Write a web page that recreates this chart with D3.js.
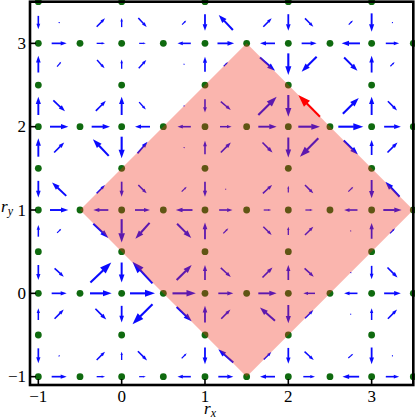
<!DOCTYPE html>
<html>
<head>
<meta charset="utf-8">
<script src="https://cdn.jsdelivr.net/npm/d3@7"></script>
<style>
  body { margin: 0; background: #fff; }
  svg { display: block; }
  text { font-family: "Liberation Serif", "DejaVu Serif", serif; fill: #000; }
</style>
</head>
<body>
<svg id="chart" width="415" height="418"></svg>
<script>
// lattice sites: rows at integer y carry every half-integer x, rows at half-integer y only integer x
var fullRows = [-1, 0, 1, 2, 3];
var fullRowX = [-1, -0.5, 0, 0.5, 1, 1.5, 2, 2.5, 3, 3.5];
var halfRows = [-0.5, 0.5, 1.5, 2.5, 3.5];
var halfRowX = [-1, 0, 1, 2, 3];

var ticks = [-1, 0, 1, 2, 3];

// diamond region
var region = [[1.5, 3], [3.5, 1], [1.5, -1], [-0.5, 1]];

// horizontal bond arrows [x, y, u, v]
var horizontal = [
  [-0.75, 3, 0.18, 0], [-0.25, 3, 0.10, 0], [0.25, 3, 0.08, 0], [0.75, 3, -0.16, 0], [1.25, 3, 0.20, 0],
  [1.75, 3, -0.18, 0], [2.25, 3, 0.18, 0], [2.75, 3, -0.22, 0], [3.25, 3, 0.16, 0],
  [-0.75, 2, 0.22, 0], [-0.25, 2, 0.22, 0], [0.25, 2, -0.18, 0], [0.75, 2, -0.16, 0], [1.25, 2, 0.14, 0],
  [1.75, 2, 0.22, 0], [2.25, 2, 0.26, 0], [2.75, 2, 0.30, 0], [3.25, 2, 0.20, 0],
  [-0.75, 1, 0.22, 0], [-0.25, 1, -0.18, 0], [0.25, 1, 0.18, 0], [0.75, 1, -0.20, 0], [1.25, 1, 0.16, 0],
  [1.75, 1, 0.09, 0], [2.25, 1, 0.09, 0], [2.75, 1, -0.16, 0], [3.25, 1, 0.22, 0],
  [-0.75, 0, 0.18, 0], [-0.25, 0, 0.26, 0], [0.25, 0, 0.30, 0], [0.75, 0, 0.28, 0], [1.25, 0, 0.18, 0],
  [1.75, 0, 0.22, 0], [2.25, 0, -0.14, 0], [2.75, 0, -0.16, 0], [3.25, 0, 0.20, 0],
  [-0.75, -1, 0.18, 0], [-0.25, -1, 0.10, 0], [0.25, -1, 0.08, 0], [0.75, -1, -0.16, 0], [1.25, -1, 0.18, 0],
  [1.75, -1, -0.18, 0], [2.25, -1, 0.14, 0], [2.75, -1, -0.20, 0], [3.25, -1, 0.16, 0]
];

// vertical bond arrows [x, y, u, v]
var vertical = [
  [-1, 3.25, 0, -0.16], [-1, 2.75, 0, 0.20], [-1, 2.25, 0, 0.22], [-1, 1.75, 0, 0.22], [-1, 1.25, 0, -0.20],
  [-1, 0.75, 0, 0.14], [-1, 0.25, 0, -0.18], [-1, -0.25, 0, 0.14], [-1, -0.75, 0, -0.18],
  [0, 3.25, 0, 0.11], [0, 2.75, 0, 0.11], [0, 2.25, 0, 0.22], [0, 1.75, 0, -0.26], [0, 1.25, 0, -0.18],
  [0, 0.75, 0, -0.28], [0, 0.25, 0, -0.24], [0, -0.25, 0, -0.20], [0, -0.75, 0, 0.10],
  [1, 3.25, 0, -0.20], [1, 2.75, 0, 0.18], [1, 2.25, 0, -0.16], [1, 1.75, 0, 0.16], [1, 1.25, 0, -0.18],
  [1, 0.75, 0, 0.20], [1, 0.25, 0, 0.18], [1, -0.25, 0, 0.20], [1, -0.75, 0, -0.20],
  [2, 3.25, 0, -0.20], [2, 2.75, 0, -0.26], [2, 2.25, 0, -0.26], [2, 1.75, 0, -0.24], [2, 1.25, 0, 0.08],
  [2, 0.75, 0, 0.10], [2, 0.25, 0, 0.18], [2, -0.25, 0, -0.22], [2, -0.75, 0, -0.19],
  [3, 3.25, 0, -0.22], [3, 2.75, 0, 0.20], [3, 2.25, 0, 0.22], [3, 1.75, 0, 0.18], [3, 1.25, 0, -0.22],
  [3, 0.75, 0, 0.19], [3, 0.25, 0, -0.16], [3, -0.25, 0, 0.14], [3, -0.75, 0, -0.20]
];

// diagonal arrows [x, y, u, v]
var diagonal = [
  [-0.75, 3.25, 0.012, 0.012], [-0.25, 3.25, 0.10, 0.10], [0.25, 3.25, 0.10, -0.11], [0.75, 3.25, 0.05, 0.05],
  [1.25, 3.25, -0.17, 0.18], [1.75, 3.25, 0.10, 0.10], [2.25, 3.25, 0.10, -0.10], [2.75, 3.25, 0.05, 0.05], [3.25, 3.25, 0.012, 0.012],
  [-0.75, 2.75, 0.05, 0.06], [-0.25, 2.75, 0.09, -0.10], [0.25, 2.75, 0.09, 0.10], [0.75, 2.75, 0.01, 0.01],
  [1.25, 2.75, 0.05, 0.05], [1.75, 2.75, 0.18, -0.16], [2.25, 2.75, -0.18, -0.18], [2.75, 2.75, 0.16, -0.16], [3.25, 2.75, 0.05, 0.05],
  [-0.75, 2.25, 0.14, -0.13], [-0.25, 2.25, 0.12, 0.12], [0.25, 2.25, 0.08, -0.09], [0.75, 2.25, 0.01, 0.01],
  [1.25, 2.25, 0.12, -0.10], [1.75, 2.25, 0.22, 0.22], [2.75, 2.25, 0.19, 0.19], [3.25, 2.25, 0.11, -0.11],
  [-0.75, 1.75, 0.12, 0.12], [-0.25, 1.75, -0.19, 0.20], [0.25, 1.75, 0.12, 0.14], [0.75, 1.75, 0.01, 0.01],
  [1.25, 1.75, 0.12, 0.12], [1.75, 1.75, 0.12, -0.12], [2.25, 1.75, -0.22, -0.22], [2.75, 1.75, 0.17, -0.17], [3.25, 1.75, 0.12, 0.12],
  [-0.75, 1.25, -0.17, 0.16], [-0.25, 1.25, 0.10, 0.10], [0.25, 1.25, 0.10, -0.10], [0.75, 1.25, 0.06, 0.06],
  [1.25, 1.25, 0.01, 0.01], [1.75, 1.25, 0.11, 0.10], [2.25, 1.25, 0.10, -0.10], [2.75, 1.25, 0.06, 0.06], [3.25, 1.25, -0.17, 0.18],
  [-0.75, 0.75, 0.05, 0.05], [-0.25, 0.75, 0.18, -0.17], [0.25, 0.75, -0.17, -0.19], [0.75, 0.75, 0.17, -0.17],
  [1.25, 0.75, 0.06, 0.06], [1.75, 0.75, 0.10, -0.10], [2.25, 0.75, 0.10, 0.10], [2.75, 0.75, 0.01, 0.01], [3.25, 0.75, 0.06, 0.06],
  [-0.75, 0.25, 0.11, -0.10], [-0.25, 0.25, 0.25, 0.24], [0.25, 0.25, -0.24, 0.26], [0.75, 0.25, 0.18, 0.18],
  [1.25, 0.25, 0.12, -0.11], [1.75, 0.25, 0.12, 0.12], [2.25, 0.25, 0.11, -0.10], [2.75, 0.25, 0.01, 0.01], [3.25, 0.25, 0.12, -0.12],
  [-0.75, -0.25, 0.11, 0.11], [-0.25, -0.25, 0.13, -0.13], [0.25, -0.25, -0.24, -0.24], [0.75, -0.25, 0.18, -0.17],
  [1.25, -0.25, 0.11, 0.11], [1.75, -0.25, -0.18, 0.16], [2.25, -0.25, 0.10, 0.10], [2.75, -0.25, 0.01, 0.01], [3.25, -0.25, 0.11, 0.11],
  [-0.75, -0.75, 0.012, 0.012], [-0.25, -0.75, 0.10, 0.10], [0.25, -0.75, 0.11, -0.11], [0.75, -0.75, 0.06, 0.06],
  [1.25, -0.75, -0.18, 0.16], [1.75, -0.75, 0.09, 0.09], [2.25, -0.75, 0.11, -0.10], [2.75, -0.75, 0.06, 0.05], [3.25, -0.75, 0.012, 0.012]
];

// the highlighted arrow
var highlight = [[2.25, 2.25, -0.26, 0.26]];

var svg = d3.select('#chart');
var plotLeft = 30, plotRight = 413.3, plotTop = 1.7, plotBottom = 385;

var x = d3.scaleLinear().domain([-1.1, 3.5]).range([plotLeft, plotRight]);
var y = d3.scaleLinear().domain([-1.1, 3.5]).range([plotBottom, plotTop]);

// arrow as shaft + head, centred on its point; head grows with the length
function drawArrow(g, d, color) {
  var cx = x(d[0]), cy = y(d[1]);
  var dx = x(d[0] + d[2]) - cx, dy = y(d[1] + d[3]) - cy;
  var len = Math.hypot(dx, dy);
  if (len < 0.3) return;
  var ex = dx / len, ey = dy / len, nx = -ey, ny = ex;
  var tx = cx + dx / 2, ty = cy + dy / 2;
  var sx = cx - dx / 2, sy = cy - dy / 2;
  var hl = Math.max(1, 0.4 * len), hw = Math.max(0.9, 0.14 * len);
  var bx = tx - ex * hl, by = ty - ey * hl;
  var sw = Math.min(2.1, 0.8 + len * 0.06);
  g.append('line')
    .attr('x1', sx).attr('y1', sy)
    .attr('x2', bx + ex * 0.5).attr('y2', by + ey * 0.5)
    .attr('stroke', color)
    .attr('stroke-width', sw);
  g.append('path')
    .attr('d', 'M' + tx + ',' + ty + 'L' + (bx + nx * hw) + ',' + (by + ny * hw) + 'L' + (bx - nx * hw) + ',' + (by - ny * hw) + 'Z')
    .attr('fill', color);
}

var arrows = svg.append('g').attr('class', 'arrows');
horizontal.concat(vertical, diagonal).forEach(function (d) { drawArrow(arrows, d, '#0a0aff'); });

// sites
var sites = [];
fullRows.forEach(function (r) { fullRowX.forEach(function (c) { sites.push([c, r]); }); });
halfRows.forEach(function (r) { halfRowX.forEach(function (c) { sites.push([c, r]); }); });

svg.append('g').selectAll('circle')
  .data(sites)
  .enter()
  .append('circle')
  .attr('cx', function (d) { return x(d[0]); })
  .attr('cy', function (d) { return y(d[1]); })
  .attr('r', 3.4)
  .attr('fill', '#0f6a0f');

// diamond overlay
svg.append('path')
  .attr('d', d3.line().x(function (d) { return x(d[0]); }).y(function (d) { return y(d[1]); })(region) + 'Z')
  .attr('fill', 'rgb(240,50,30)')
  .attr('fill-opacity', 0.36);

var hi = svg.append('g');
highlight.forEach(function (d) { drawArrow(hi, d, '#ff0000'); });

// frame
svg.append('rect')
  .attr('x', plotLeft).attr('y', plotTop)
  .attr('width', plotRight - plotLeft).attr('height', plotBottom - plotTop)
  .attr('fill', 'none')
  .attr('stroke', '#000')
  .attr('stroke-width', 2.6);

// ticks
svg.append('g').selectAll('line')
  .data(ticks)
  .enter()
  .append('line')
  .attr('x1', function (d) { return x(d); }).attr('x2', function (d) { return x(d); })
  .attr('y1', plotBottom).attr('y2', plotBottom - 6)
  .attr('stroke', '#000').attr('stroke-width', 1.6);

svg.append('g').selectAll('line')
  .data(ticks)
  .enter()
  .append('line')
  .attr('y1', function (d) { return y(d); }).attr('y2', function (d) { return y(d); })
  .attr('x1', plotLeft).attr('x2', plotLeft + 6)
  .attr('stroke', '#000').attr('stroke-width', 1.6);

function fmt(d) { return d < 0 ? '\u2212' + Math.abs(d) : String(d); }

svg.append('g').selectAll('text')
  .data(ticks)
  .enter()
  .append('text')
  .attr('x', function (d) { return x(d); })
  .attr('y', 401.5)
  .attr('text-anchor', 'middle')
  .attr('font-size', 17)
  .text(fmt);

svg.append('g').selectAll('text')
  .data(ticks)
  .enter()
  .append('text')
  .attr('x', 26)
  .attr('y', function (d) { return y(d) + 5.5; })
  .attr('text-anchor', 'end')
  .attr('font-size', 17)
  .text(fmt);

// axis labels
var lx = svg.append('text').attr('x', 204).attr('y', 414).attr('font-size', 17).attr('font-style', 'italic');
lx.append('tspan').text('r');
lx.append('tspan').attr('font-size', 12).attr('dy', 3).text('x');

var ly = svg.append('text').attr('x', 1).attr('y', 212).attr('font-size', 17).attr('font-style', 'italic');
ly.append('tspan').text('r');
ly.append('tspan').attr('font-size', 12).attr('dy', 3).text('y');
</script>
</body>
</html>
